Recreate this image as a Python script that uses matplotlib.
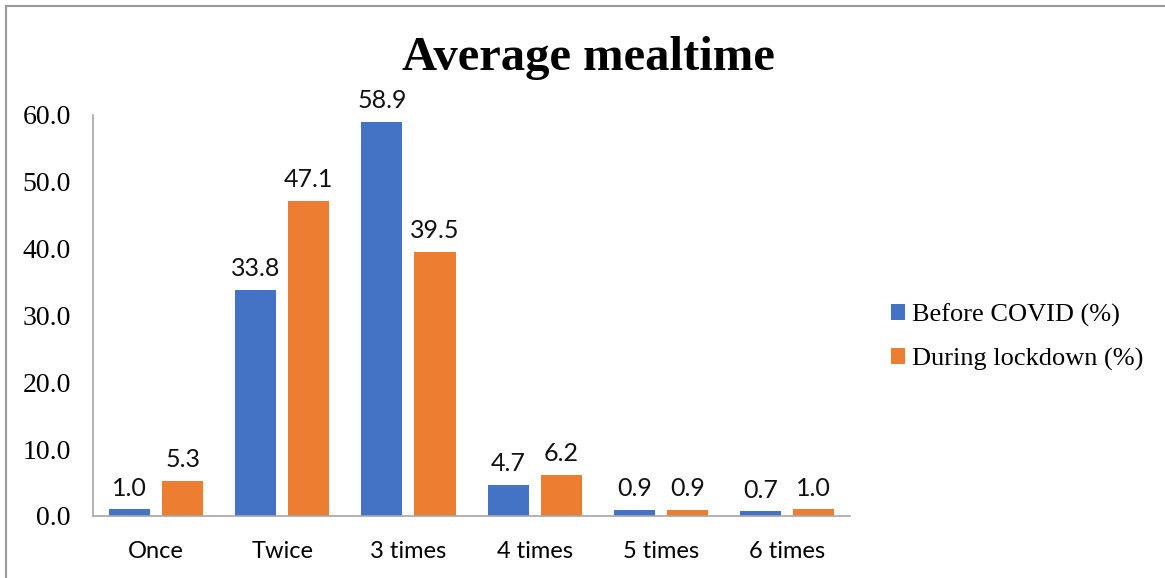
import numpy as np
import matplotlib
import matplotlib.pyplot as plt
from matplotlib.lines import Line2D

matplotlib.use('Agg')

# Dati: numero di pasti al giorno, prima e durante il lockdown
categorie = ['Once', 'Twice', '3 times', '4 times', '5 times', '6 times']
prima_covid = [1.0, 33.8, 58.9, 4.7, 0.9, 0.7]
durante_lockdown = [5.3, 47.1, 39.5, 6.2, 0.9, 1.0]
etichette_serie = ['Before COVID (%)', 'During lockdown (%)']
tick_y = [0, 10, 20, 30, 40, 50, 60]

BLU = '#4472C4'
ARANCIO = '#ED7D31'
SERIF = ['Liberation Serif', 'DejaVu Serif']
SANS = ['Lato', 'DejaVu Sans']

fig = plt.figure(figsize=(11.65, 5.78), dpi=100)
ax = fig.add_axes([0.0798, 0.1073, 0.65, 0.694])

x = np.arange(len(categorie))
larghezza = 0.325
offset = 0.21

barre1 = ax.bar(x - offset, prima_covid, larghezza, color=BLU, label=etichette_serie[0])
barre2 = ax.bar(x + offset, durante_lockdown, larghezza, color=ARANCIO, label=etichette_serie[1])

# Etichette con i valori sopra le barre
for barre, valori in ((barre1, prima_covid), (barre2, durante_lockdown)):
    for b, v in zip(barre, valori):
        ax.annotate(f'{v:.1f}', (b.get_x() + b.get_width() / 2, v),
                    xytext=(0, 7), textcoords='offset points',
                    ha='center', va='bottom', fontsize=18, family=SANS, color='#111111')

ax.set_xlim(-0.5, len(categorie) - 0.5)
ax.set_ylim(0, 60)
ax.set_yticks(tick_y)
ax.set_yticklabels([f'{t:.1f}' for t in tick_y], family=SERIF, fontsize=20)
ax.set_xticks(x)
ax.set_xticklabels(categorie, family=SANS, fontsize=17)
ax.tick_params(axis='y', length=0, pad=16)
ax.tick_params(axis='x', length=0, pad=18)

for lato in ('top', 'right'):
    ax.spines[lato].set_visible(False)
for lato in ('left', 'bottom'):
    ax.spines[lato].set_color('#A6A6A6')
    ax.spines[lato].set_linewidth(1.2)

fig.text(0.505, 0.9, 'Average mealtime', ha='center', va='center',
         family=SERIF, fontsize=35, fontweight='bold')

ax.legend(loc='center left', bbox_to_anchor=(1.022, 0.446), frameon=False,
          prop={'family': SERIF, 'size': 19}, handlelength=0.55, handleheight=0.55,
          handletextpad=0.25, labelspacing=0.78)

# Cornice grigia in alto e a sinistra
fig.add_artist(Line2D([0.0052, 1.0], [1 - 0.0104, 1 - 0.0104], color='#999999', lw=1.5,
                      transform=fig.transFigure))
fig.add_artist(Line2D([0.0052, 0.0052], [0.0, 1 - 0.0104], color='#999999', lw=1.5,
                      transform=fig.transFigure))

plt.savefig('out.png', dpi=100)
plt.close()
